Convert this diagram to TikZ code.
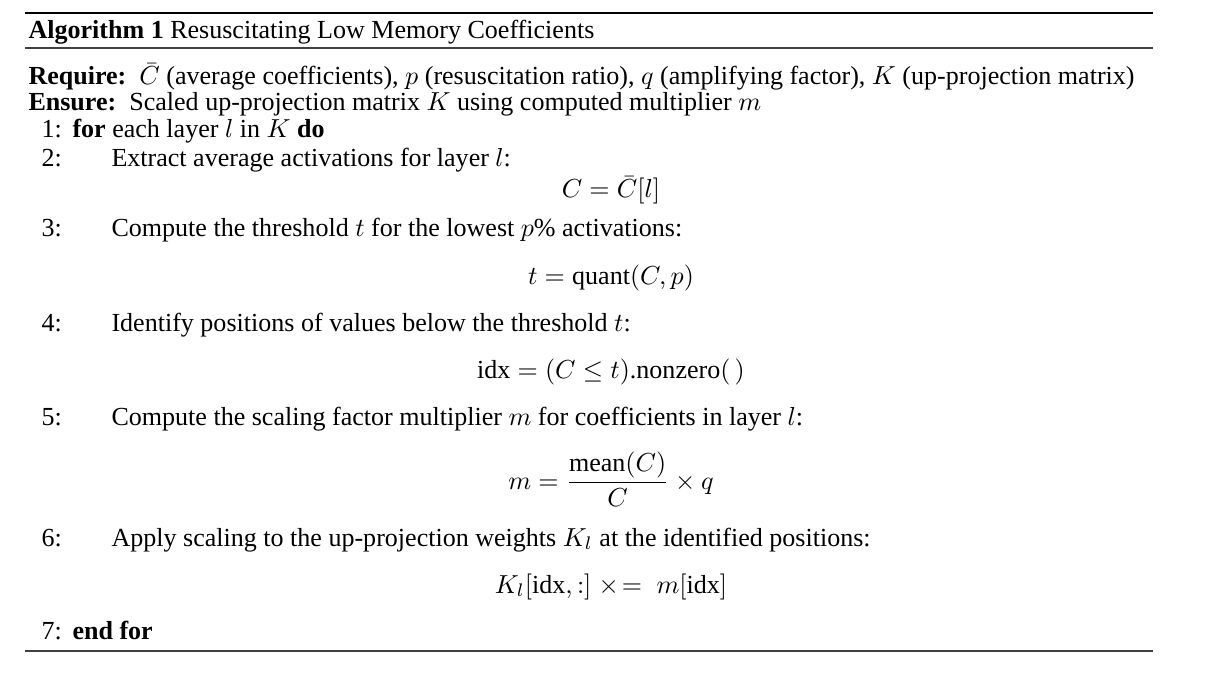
\documentclass[tikz,border=0pt]{standalone}
\usepackage{amsmath}
\usepackage{fontspec}
\setmainfont{Liberation Serif}
\begin{document}
\begin{tikzpicture}[
		x=0.384pt, y=-0.384pt,
		txt/.style={anchor=base west, inner sep=0pt},
		num/.style={anchor=base west, inner sep=0pt},
		eqn/.style={anchor=base, inner sep=0pt},
		thickrule/.style={line width=0.95pt},
		thinrule/.style={line width=0.5pt, black!75}
	]
	\useasboundingbox (0,0) rectangle (1210,678);
	% rules
	\coordinate (tl) at (25,13);
	\coordinate (tr) at (1153,13);
	\coordinate (ml) at (25,48);
	\coordinate (mr) at (1153,48);
	\coordinate (bl) at (25,651);
	\coordinate (br) at (1153,651);
	\draw[thickrule] (tl) -- (tr);
	\draw[thinrule] (ml) -- (mr);
	\draw[thinrule] (bl) -- (br);
	% caption
	\node[txt] (title) at (28,39) {\textbf{Algorithm 1} Resuscitating Low Memory Coefficients};
	\node[txt] (req) at (28,85) {\textbf{Require:}\ \ $\bar{C}$ (average coefficients), $p$ (resuscitation ratio), $q$ (amplifying factor), $K$ (up-projection matrix)};
	\node[txt] (ens) at (28,111) {\textbf{Ensure:}\ \ Scaled up-projection matrix $K$ using computed multiplier $m$};
	% line numbers
	\foreach \n/\y in {1/138,2/167,3/237,4/332,5/425,6/546,7/639}
		\node[num] (n\n) at (41,\y) {\n:};
	% body
	\node[txt] (l1) at (72,138) {\textbf{for} each layer $l$ in $K$ \textbf{do}};
	\node[txt] (l2) at (111,167) {Extract average activations for layer $l$:};
	\node[eqn] (e2) at (611,198) {$\displaystyle C = \bar{C}[l]$};
	\node[txt] (l3) at (111,237) {Compute the threshold $t$ for the lowest $p\%$ activations:};
	\node[eqn] (e3) at (611,284) {$\displaystyle t = \text{quant}(C, p)$};
	\node[txt] (l4) at (111,332) {Identify positions of values below the threshold $t$:};
	\node[eqn] (e4) at (611,378) {$\displaystyle \text{idx} = (C \leq t)\text{.nonzero}(\,)$};
	\node[txt] (l5) at (111,425) {Compute the scaling factor multiplier $m$ for coefficients in layer $l$:};
	\node[eqn] (e5) at (611,489) {$\displaystyle m = \frac{\text{mean}(C)}{C} \times q$};
	\node[txt] (l6) at (111,546) {Apply scaling to the up-projection weights $K_l$ at the identified positions:};
	\node[eqn] (e6) at (611,593) {$\displaystyle K_l[\text{idx}, :] \;\times\!=\; m[\text{idx}]$};
	\node[txt] (l7) at (72,639) {\textbf{end for}};
\end{tikzpicture}
\end{document}
